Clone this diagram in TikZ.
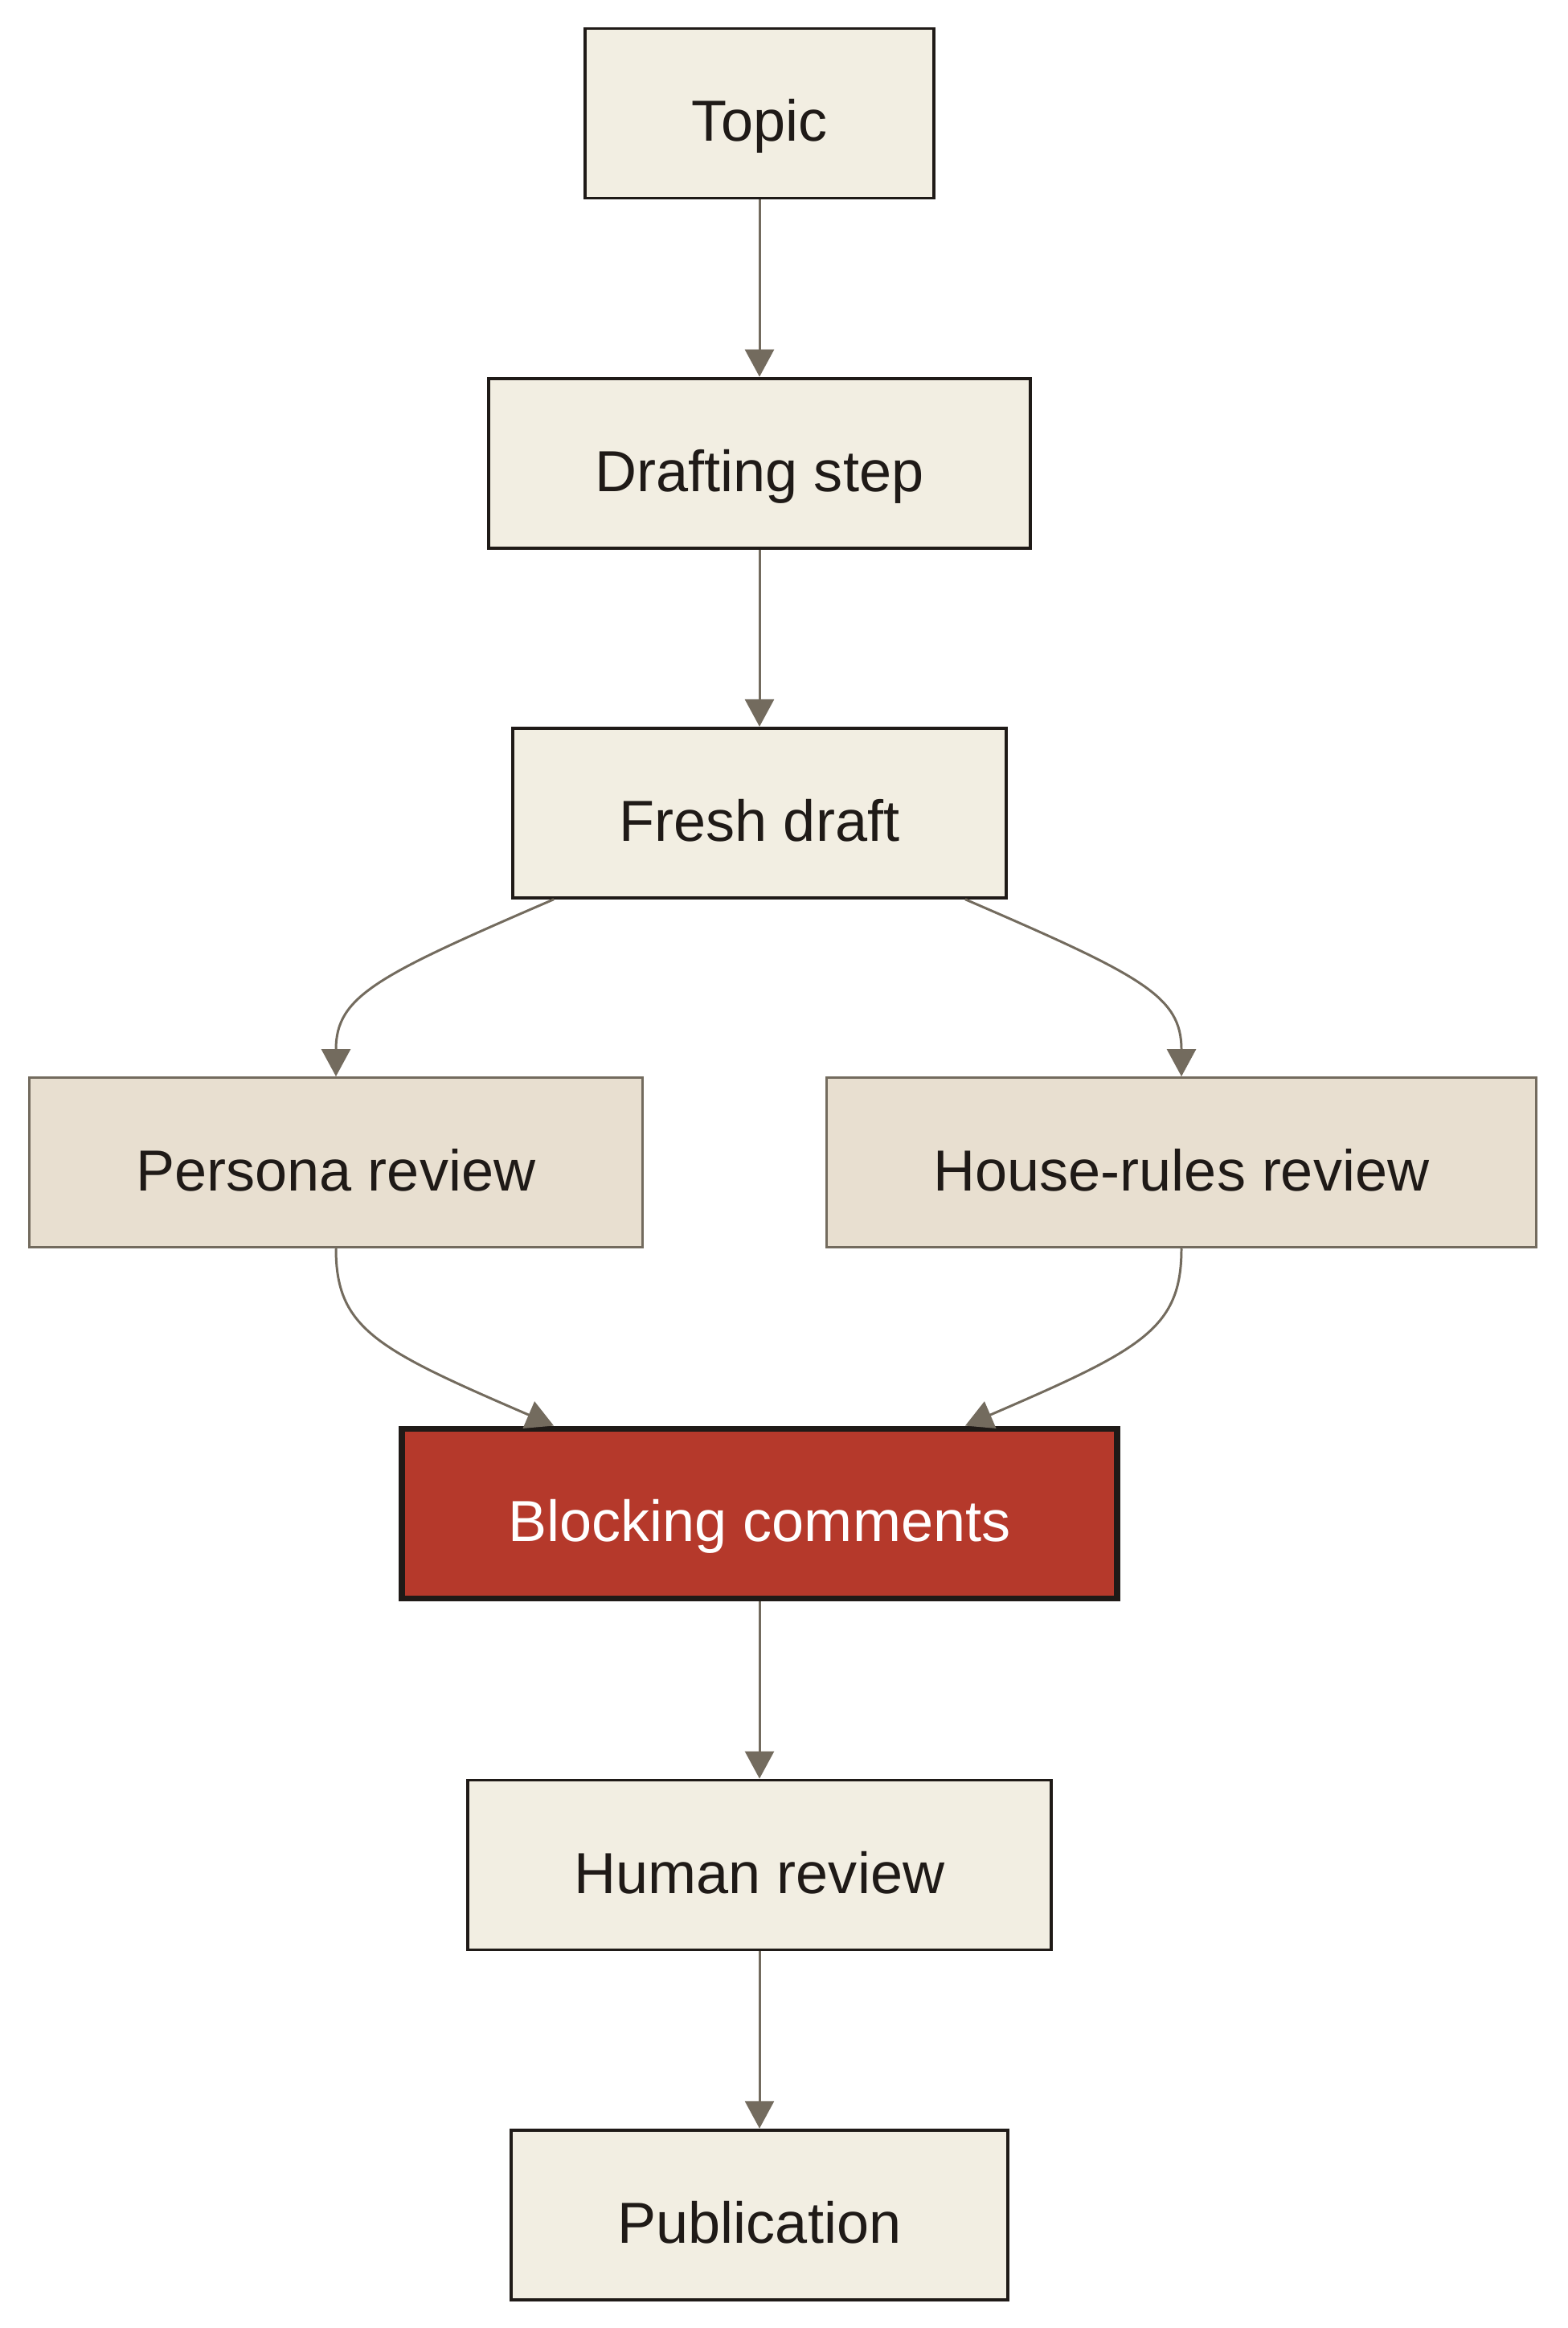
\documentclass[tikz,border=0pt]{standalone}
\usepackage{fontspec}
\setmainfont{Liberation Sans}
\usetikzlibrary{arrows.meta,positioning,calc}
\definecolor{ink}{HTML}{1F1A17}
\definecolor{paper}{HTML}{F2EEE2}
\definecolor{sand}{HTML}{E8DFD0}
\definecolor{mud}{HTML}{736B5E}
\definecolor{brick}{HTML}{B5392B}
\begin{document}
\begin{tikzpicture}[
  box/.style={rectangle, draw=ink, fill=paper, line width=1.1pt,
              text=ink, font=\fontsize{20.5}{24}\selectfont,
              inner xsep=1.33cm, text height=0.7cm, text depth=0cm,
              minimum height=2.11cm},
  rev/.style={box, draw=mud, fill=sand, line width=0.9pt},
  block/.style={box, fill=brick, text=white, line width=2.2pt},
  arr/.style={draw=mud,-{Triangle[length=0.34cm,width=0.36cm]},line width=0.85pt},
  node distance=2.203cm and 2.26cm
]
\useasboundingbox (0,0) rectangle (19.5,-28.96);
\node[box] (tp) at (9.45,-1.41) {Topic};
\node[box, below=of tp] (ds) {Drafting step};
\node[box, below=of ds] (fd) {Fresh draft};
\node[rev, below=of fd, xshift=-5.27cm] (pr) {Persona review};
\node[rev, below=of fd, xshift=5.25cm]  (hr) {House-rules review};
\coordinate (mid) at (pr.south -| fd.south);
\node[block, below=of mid] (bc) {Blocking comments};
\node[box, below=of bc] (hu) {Human review};
\node[box, below=of hu] (pb) {Publication};
\draw[arr] (tp)--(ds);
\draw[arr] (ds)--(fd);
\draw[arr] ([xshift=-2.56cm]fd.south) .. controls +(-2.2,-0.95) and +(0,1.0) .. (pr.north);
\draw[arr] ([xshift=2.56cm]fd.south) .. controls +(2.2,-0.95) and +(0,1.0) .. (hr.north);
\draw[arr] (pr.south) .. controls +(0,-1.0) and +(-2.2,0.95) .. ([xshift=-2.56cm]bc.north);
\draw[arr] (hr.south) .. controls +(0,-1.0) and +(2.2,0.95) .. ([xshift=2.56cm]bc.north);
\draw[arr] (bc)--(hu);
\draw[arr] (hu)--(pb);
\end{tikzpicture}
\end{document}
